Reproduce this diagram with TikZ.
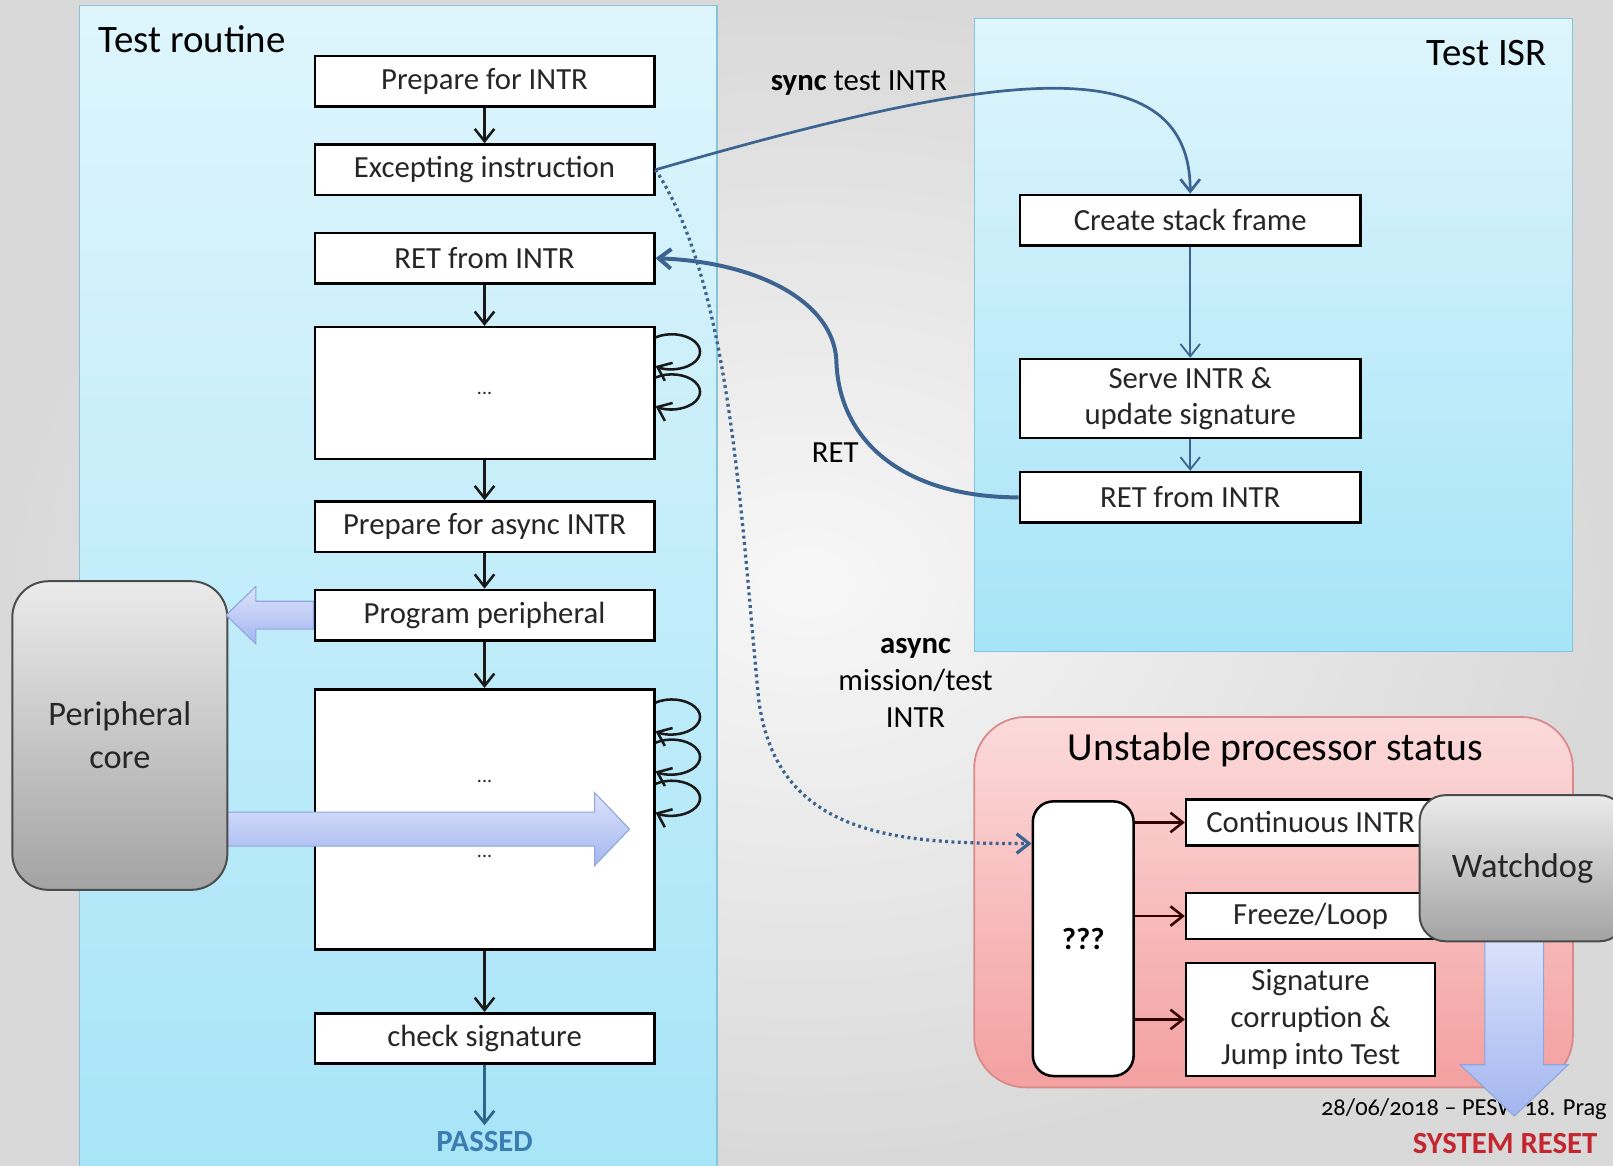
\documentclass[tikz,border=0pt]{standalone}
\usepackage{fontspec}
\setmainfont{Carlito}
\newfontfamily\datefont{Carlito}[Numbers=OldStyle]
\usetikzlibrary{arrows.meta,positioning}

\definecolor{panelTop}{HTML}{DEF5FC}
\definecolor{panelBot}{HTML}{A6E4F7}
\definecolor{panelLine}{HTML}{86C4DA}
\definecolor{linkBlue}{HTML}{3D6491}
\definecolor{blockTop}{HTML}{DCE3FB}
\definecolor{blockBot}{HTML}{A3B6F0}
\definecolor{blockLine}{HTML}{8EA6DE}
\definecolor{pinkTop}{HTML}{FCDADA}
\definecolor{pinkBot}{HTML}{F3A0A0}
\definecolor{pinkLine}{HTML}{D98B8B}
\definecolor{passBlue}{HTML}{3B7DB0}
\definecolor{resetRed}{HTML}{C3262E}

\begin{document}
\begin{tikzpicture}[every text node part/.style={align=center},
    font=\fontsize{17}{20.4}\selectfont,
    >={Straight Barb[length=2.4mm,width=3.8mm]},
    stepbox/.style={draw=black,line width=1.4pt,fill=white,text=black!85,
      minimum width=6.6cm,minimum height=0.98cm,inner sep=0pt},
    outbox/.style={stepbox,minimum width=4.84cm,minimum height=0.9cm},
    flow/.style={->,line width=1.4pt,black!90},
    panel/.style={draw=panelLine,line width=0.6pt,top color=panelTop,bottom color=panelBot},
    grayblock/.style={draw=black!70,line width=1.1pt,top color=black!8,bottom color=black!36,
      text=black!85,font=\fontsize{19}{23.8}\selectfont},
    fatarrow/.style={draw=blockLine,line width=0.6pt,top color=blockTop,bottom color=blockBot}]

    \useasboundingbox (0,0) rectangle (31.36,-22.66);
    \clip (0,0) rectangle (31.36,-22.66);
    \shade[inner color=black!3,outer color=black!15] (0,0) rectangle (31.36,-22.66);

    % test routine column
    \draw[panel] (1.54,-0.10) rectangle (13.94,-23.2);
    \node[anchor=west,font=\fontsize{21.5}{26}\selectfont] (routinelabel) at (1.80,-0.76) {Test routine};

    \node[stepbox] (prep) at (9.42,-1.58) {Prepare for INTR};
    \node[stepbox] (exc) at (9.42,-3.30) {Excepting instruction};
    \node[stepbox] (ret) at (9.42,-5.02) {RET from INTR};
    \node[stepbox,minimum height=2.56cm,font=\fontsize{11}{13}\selectfont] (work1) at (9.42,-7.64) {...};
    \node[stepbox] (async) at (9.42,-10.24) {Prepare for async INTR};
    \node[stepbox] (prog) at (9.42,-11.96) {Program peripheral};
    \node[stepbox,minimum height=5.06cm,font=\fontsize{11}{13}\selectfont] (work2) at (9.42,-15.93) {...\\[1cm]...};
    \node[stepbox] (check) at (9.42,-20.19) {check signature};
    \node[text=passBlue] (passed) at (9.42,-22.2) {\textbf{PASSED}};

    \draw[flow] (prep) -- (exc);
    \foreach \from/\to in {ret/work1,work1/async,async/prog,prog/work2,work2/check}
    \draw[flow] (\from) -- (\to);
    \draw[->,line width=1.5pt,passBlue!80!black] (check) -- (passed);

    % busy loops
    \foreach \dy in {1.08,0.30}
    \draw[flow] ([yshift=\dy cm]work1.east) arc[start angle=125,end angle=-125,x radius=0.55cm,y radius=0.34cm];
    \foreach \dy in {2.27,1.49,0.69}
    \draw[flow] ([yshift=\dy cm]work2.east) arc[start angle=125,end angle=-125,x radius=0.55cm,y radius=0.34cm];

    % peripheral
    \shade[fatarrow] (4.3,-15.79) -- (11.56,-15.79) -- (11.56,-15.41)
      -- (12.24,-16.12) -- (11.56,-16.83) -- (11.56,-16.45) -- (4.3,-16.45) -- cycle;
    \node[grayblock,rounded corners=0.7cm,minimum width=4.18cm,minimum height=6cm] (core) at (2.33,-14.30) {Peripheral\\core};
    \shade[fatarrow] ([yshift=0.27cm]prog.west) -- ++(-1.12,0) -- ++(0,0.29) -- ++(-0.58,-0.56)
      -- ++(0.58,-0.56) -- ++(0,0.29) -- ++(1.12,0) -- cycle;

    % test ISR column
    \draw[panel] (18.94,-0.36) rectangle (30.58,-12.66);
    \node[anchor=east,font=\fontsize{21.5}{26}\selectfont] (isrlabel) at (30.2,-1.04) {Test ISR};

    \node[stepbox,minimum width=6.62cm] (stack) at (23.14,-4.28) {Create stack frame};
    \node[stepbox,minimum width=6.62cm,minimum height=1.54cm] (serve) at (23.14,-7.75) {Serve INTR \&\\update signature};
    \node[stepbox,minimum width=6.62cm] (isrret) at (23.14,-9.67) {RET from INTR};
    \draw[->,line width=1pt,linkBlue] (stack) -- (serve);
    \draw[->,line width=1pt,linkBlue] (serve) -- (isrret);

    % jumps between the two
    \draw[->,line width=1.5pt,linkBlue] (exc.east) .. controls (19,-1.5) and (23.14,-0.75) .. (stack.north);
    \node (synclabel) at (16.7,-1.62) {\textbf{sync} test INTR};
    \draw[->,line width=2.2pt,linkBlue] (isrret.west) .. controls (17.6,-9.67) and (16.3,-8.6) .. (16.26,-7.0)
      .. controls (16.2,-5.9) and (14.8,-5.1) .. (ret.east);
    \node (retlabel) at (16.24,-8.8) {RET};

    % unstable status
    \draw[rounded corners=1cm,draw=pinkLine,line width=1pt,top color=pinkTop,bottom color=pinkBot]
      (18.94,-13.94) rectangle (30.58,-21.14);
    \node[font=\fontsize{22}{26}\selectfont] (unstlabel) at (24.8,-14.58) {Unstable processor status};
    \node[draw=black,line width=1.4pt,fill=white,rounded corners=0.4cm,minimum width=1.96cm,
      minimum height=5.34cm] (qqq) at (21.06,-18.25) {\textbf{???}};
    \node[outbox] (cont) at (25.48,-15.99) {Continuous INTR};
    \node[outbox] (freeze) at (25.48,-17.81) {Freeze/Loop};
    \node[outbox,minimum height=2.2cm] (corrupt) at (25.48,-19.82) {Signature\\corruption \&\\Jump into Test};
    \foreach \to in {cont,freeze,corrupt}
    \draw[->,line width=1.4pt,black!80!red] (qqq.east |- \to.west) -- (\to.west);

    \draw[->,line width=1.8pt,linkBlue,dash pattern=on 1.6pt off 1.9pt] (exc.east) .. controls (14.2,-5.5) and (14.4,-10) .. (14.75,-13.6)
      .. controls (15.1,-16.3) and (17.5,-16.4) .. ([yshift=1.85cm]qqq.west);
    \node (asynclabel) at (17.8,-13.28) {\textbf{async}\\mission/test\\INTR};

    \node[anchor=west,font=\datefont\fontsize{13.5}{16}\selectfont] (date) at (25.56,-21.56) {28/06/2018 – PESW 18. Prag};
    \node[anchor=east,text=resetRed] (reset) at (31.18,-22.24) {\textbf{SYSTEM RESET}};

    % watchdog
    \coordinate (wdogfoot) at (28.87,-18.1);
    \shade[fatarrow] (wdogfoot) -- ++(0,-2.6) -- ++(-0.48,0) -- ++(1.05,-1.0)
      -- ++(1.05,1.0) -- ++(-0.48,0) -- ++(0,2.6) -- cycle;
    \node[grayblock,rounded corners=0.5cm,minimum width=4cm,minimum height=2.84cm] (wdog) at (29.6,-16.88) {Watchdog};
  \end{tikzpicture}
\end{document}
